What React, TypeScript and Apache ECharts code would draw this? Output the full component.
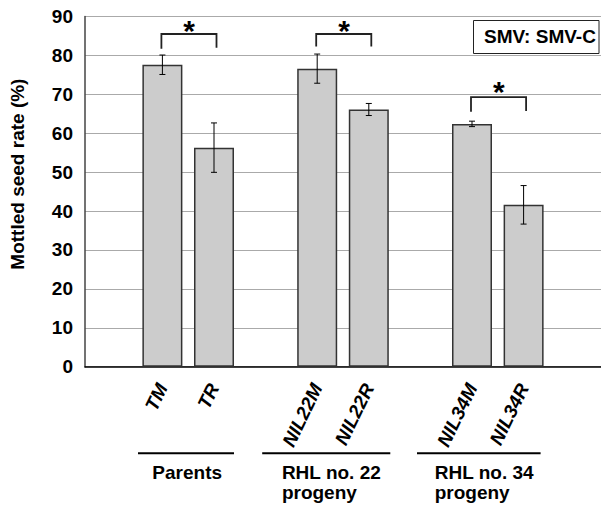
import React, { useEffect, useRef } from "react";
import * as echarts from "echarts";

// ---- data ----
const categories = ["", "TM", "TR", "", "NIL22M", "NIL22R", "", "NIL34M", "NIL34R", ""];
const means: (number | null)[] = [null, 77.6, 56.3, null, 76.6, 66.1, null, 62.4, 41.6, null];
const errors: (number | null)[] = [null, 2.5, 6.35, null, 3.75, 1.55, null, 0.7, 4.95, null];
// significance brackets: [leftIdx, rightIdx, topValue, leftEnd, rightEnd, starValue]
const brackets = [
  [1, 2, 85.5, 81.7, 82.0, 87.8],
  [4, 5, 85.5, 82.3, 82.3, 87.8],
  [7, 8, 69.3, 65.5, 65.7, 71.9],
];
const groupLabels = ["Parents", "RHL no. 22\nprogeny", "RHL no. 34\nprogeny"];
const groupMembers = [
  [1, 2],
  [4, 5],
  [7, 8],
];
const yTicks = { min: 0, max: 90, interval: 10 };
const annotation = "SMV: SMV-C";
const yTitle = "Mottled seed rate (%)";

const FONT = "'Liberation Sans', Arial, sans-serif";

// pixel offsets for group underline / text (layout only)
const groupLayout = [
  { lineL: -24.4, lineR: 20, align: "center", textDx: 0 },
  { lineL: -55, lineR: 21.5, align: "left", textDx: -35.3 },
  { lineL: -55, lineR: 17, align: "left", textDx: -37.3 },
];

export default function App() {
  const ref = useRef<HTMLDivElement>(null);
  useEffect(() => {
    document.body.style.margin = "0";
    const chart = echarts.init(ref.current!, undefined, { renderer: "svg" });
    const errData = means
      .map((m, i) => (m == null ? null : [i, m, errors[i]]))
      .filter((d) => d != null);
    chart.setOption({
      animation: false,
      backgroundColor: "#ffffff",
      title: {
        text: annotation,
        left: 484,
        top: 27,
        padding: 0,
        textStyle: { fontSize: 19, fontWeight: "bold", color: "#000", fontFamily: FONT },
      },
      grid: { left: 82, top: 16.5, bottom: 138.3, right: -12, containLabel: false },
      xAxis: {
        type: "category",
        data: categories,
        axisLine: { show: true, lineStyle: { color: "#000", width: 1.5 } },
        axisTick: { show: false },
        splitLine: { show: false },
        axisLabel: {
          interval: 0,
          rotate: 64,
          margin: 18,
          padding: [12, 0, 0, 0],
          color: "#000",
          fontFamily: FONT,
          fontStyle: "italic",
          fontWeight: "bold",
          fontSize: 19,
        },
      },
      yAxis: {
        type: "value",
        min: yTicks.min,
        max: yTicks.max,
        interval: yTicks.interval,
        name: yTitle,
        nameLocation: "middle",
        nameGap: 58,
        nameRotate: 90,
        nameTextStyle: {
          fontSize: 19,
          fontWeight: "bold",
          color: "#000",
          fontFamily: FONT,
          padding: [0, 0, 0, 35],
        },
        axisLine: { show: true, lineStyle: { color: "#444", width: 1.5 } },
        axisTick: { show: false },
        splitLine: { show: true, lineStyle: { color: "#aaaaaa", width: 1 } },
        axisLabel: { fontSize: 19, fontWeight: "bold", color: "#000", fontFamily: FONT, margin: 12 },
      },
      series: [
        {
          type: "bar",
          data: means.map((m) => (m == null ? "-" : m)),
          barWidth: 40,
          itemStyle: { color: "#cccccc", borderColor: "#333", borderWidth: 1.5 },
          z: 2,
        },
        {
          type: "custom",
          z: 3,
          data: errData,
          encode: { x: 0, y: 1 },
          renderItem: (params: any, api: any) => {
            const x = api.value(0);
            const m = api.value(1);
            const e = api.value(2);
            const t = api.coord([x, m + e]);
            const b = api.coord([x, m - e]);
            const hw = 3;
            const st = { stroke: "#000", lineWidth: 1 };
            return {
              type: "group",
              children: [
                { type: "line", shape: { x1: t[0], y1: t[1], x2: b[0], y2: b[1] }, style: st },
                { type: "line", shape: { x1: t[0] - hw, y1: t[1], x2: t[0] + hw, y2: t[1] }, style: st },
                { type: "line", shape: { x1: b[0] - hw, y1: b[1], x2: b[0] + hw, y2: b[1] }, style: st },
              ],
            };
          },
        },
        {
          type: "custom",
          z: 4,
          data: brackets,
          encode: { x: 0, y: 2 },
          renderItem: (params: any, api: any) => {
            const l = api.value(0);
            const r = api.value(1);
            const top = api.value(2);
            const le = api.value(3);
            const re = api.value(4);
            const sv = api.value(5);
            const p1 = api.coord([l, le]);
            const p2 = api.coord([l, top]);
            const p3 = api.coord([r, top]);
            const p4 = api.coord([r, re]);
            const s = api.coord([l, sv]);
            const s2 = api.coord([r, sv]);
            return {
              type: "group",
              children: [
                {
                  type: "polyline",
                  shape: { points: [[p1[0] - 1, p1[1]], [p2[0] - 1, p2[1]], [p3[0] + 2.5, p3[1]], [p4[0] + 2.5, p4[1]]] },
                  style: { stroke: "#222", lineWidth: 1.8, fill: null },
                },
                {
                  type: "text",
                  x: (s[0] + s2[0]) / 2 + 1,
                  y: s[1] + 5,
                  style: {
                    text: "*",
                    fontSize: 30,
                    fontWeight: "bold",
                    fontFamily: FONT,
                    fill: "#000",
                    align: "center",
                    verticalAlign: "middle",
                  },
                },
              ],
            };
          },
        },
      ],
    });

    // group annotations below the axis, positioned from the category scale
    const axisY = chart.convertToPixel({ yAxisIndex: 0 }, 0) as number;
    const graphics: any[] = [
      {
        type: "rect",
        shape: { x: 473.5, y: 20.5, width: 125.5, height: 33 },
        style: { fill: null, stroke: "#222", lineWidth: 1 },
        z: 10,
      },
    ];
    groupMembers.forEach((mem, gi) => {
      const a = chart.convertToPixel({ xAxisIndex: 0 }, mem[0]) as number;
      const b = chart.convertToPixel({ xAxisIndex: 0 }, mem[1]) as number;
      const lay = groupLayout[gi];
      const lineY = axisY + 86.6;
      graphics.push({
        type: "line",
        shape: { x1: a + lay.lineL, y1: lineY, x2: b + lay.lineR, y2: lineY },
        style: { stroke: "#000", lineWidth: 2 },
      });
      graphics.push({
        type: "text",
        x: lay.align === "center" ? (a + b) / 2 - 1 : a + lay.textDx,
        y: lineY + 9,
        style: {
          text: groupLabels[gi],
          fontSize: 19,
          fontWeight: "bold",
          fontFamily: FONT,
          fill: "#000",
          align: lay.align,
          verticalAlign: "top",
          lineHeight: 20,
        },
      });
    });
    chart.setOption({ graphic: graphics });
    return () => chart.dispose();
  }, []);
  return <div ref={ref} style={{ width: 601, height: 505 }} />;
}
